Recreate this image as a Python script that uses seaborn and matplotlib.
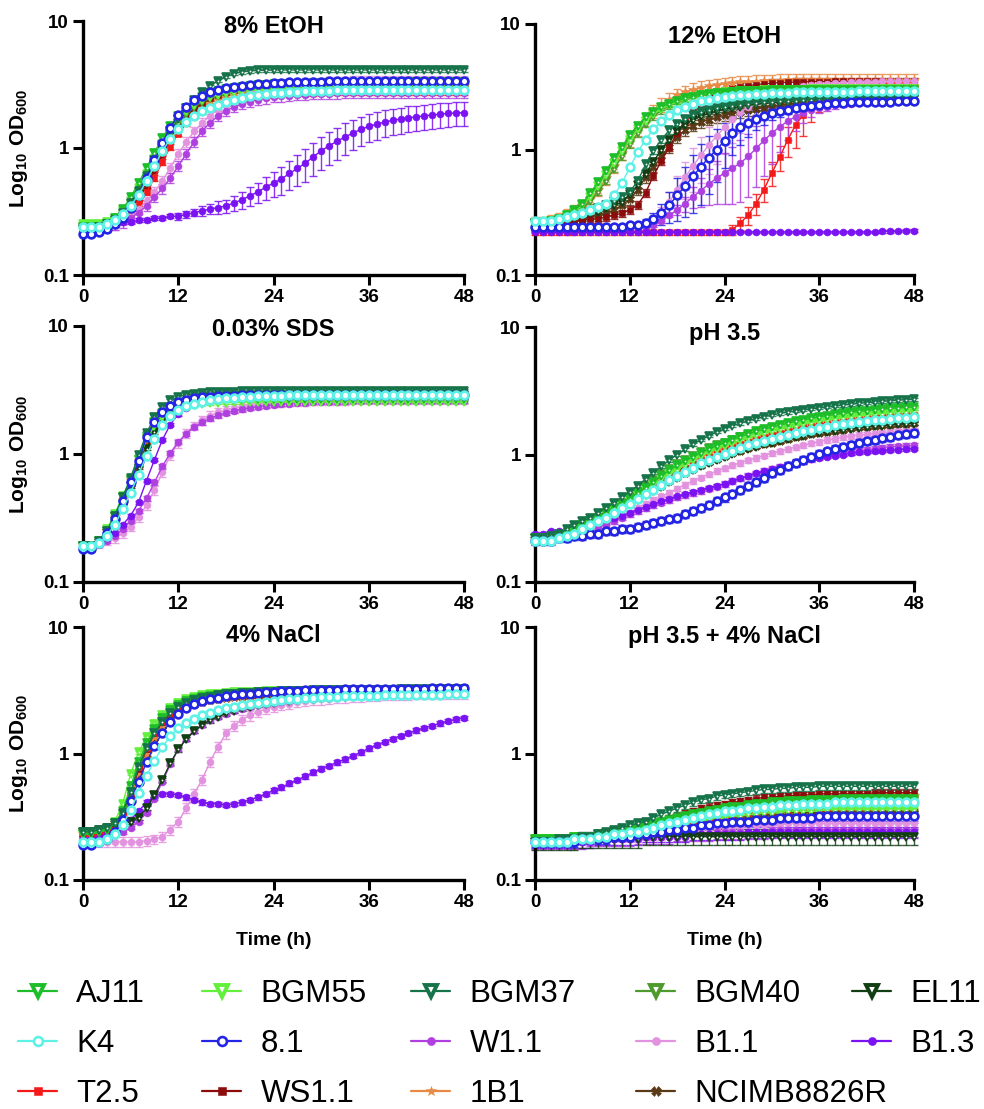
import numpy as np
import matplotlib
matplotlib.use("Agg")
import matplotlib.pyplot as plt
from matplotlib.lines import Line2D
from matplotlib.ticker import NullLocator
import seaborn as sns

sns.set_theme(style="ticks")
plt.rcParams['font.family'] = ['Liberation Sans', 'DejaVu Sans']
plt.rcParams['mathtext.fontset'] = 'custom'
plt.rcParams['mathtext.bf'] = 'Liberation Sans:bold'
plt.rcParams['mathtext.rm'] = 'Liberation Sans'
for key in ("text.color", "axes.labelcolor", "xtick.color", "ytick.color",
            "axes.edgecolor"):
    plt.rcParams[key] = "black"

# ---------------------------------------------------------------- data
hours = list(range(49))

strains = ["AJ11", "BGM55", "BGM37", "BGM40", "EL11",
           "K4", "8.1", "W1.1", "B1.1", "B1.3",
           "T2.5", "WS1.1", "1B1", "NCIMB8826R"]

panel_titles = ["8% EtOH", "12% EtOH", "0.03% SDS", "pH 3.5",
                "4% NaCl", "pH 3.5 + 4% NaCl"]

x_ticks = [0, 12, 24, 36, 48]
y_ticks = [0.1, 1, 10]
y_tick_labels = ["0.1", "1", "10"]

# mean OD600 per hour, 8% ethanol
ETOH_8 = {
    "AJ11": [0.24,0.24,0.24,0.25,0.28,0.33,0.41,0.53,0.70,0.92,1.20,1.50,
             1.80,2.08,2.32,2.52,2.68,2.80,2.90,2.98,3.04,3.08,3.12,3.15,
             3.17,3.19,3.20,3.21,3.22,3.23,3.24,3.25,3.25,3.26,3.26,3.27,
             3.27,3.27,3.28,3.28,3.28,3.29,3.29,3.29,3.30,3.30,3.30,3.30,3.30],
    "BGM55": [0.25,0.25,0.25,0.26,0.28,0.32,0.38,0.48,0.62,0.82,1.08,1.38,
              1.68,1.95,2.18,2.38,2.52,2.62,2.70,2.76,2.80,2.84,2.87,2.89,
              2.91,2.92,2.93,2.94,2.95,2.96,2.96,2.97,2.97,2.98,2.98,2.98,
              2.99,2.99,2.99,2.99,2.99,2.99,3.00,3.00,3.00,3.00,3.00,3.00,3.00],
    "BGM37": [0.23,0.23,0.24,0.25,0.27,0.31,0.37,0.46,0.60,0.80,1.05,1.35,
              1.70,2.05,2.40,2.75,3.05,3.40,3.65,3.85,3.97,4.04,4.08,4.10,
              4.11,4.12,4.12,4.12,4.12,4.12,4.12,4.12,4.12,4.12,4.12,4.12,
              4.12,4.12,4.12,4.12,4.12,4.12,4.12,4.12,4.12,4.12,4.12,4.12,4.12],
    "BGM40": [0.24,0.24,0.24,0.25,0.27,0.30,0.36,0.45,0.58,0.77,1.00,1.28,
              1.58,1.86,2.10,2.30,2.46,2.58,2.68,2.76,2.82,2.87,2.91,2.94,
              2.96,2.98,3.00,3.01,3.02,3.03,3.04,3.05,3.05,3.06,3.06,3.06,
              3.07,3.07,3.07,3.07,3.07,3.07,3.07,3.07,3.07,3.07,3.07,3.07,3.07],
    "EL11": [0.23,0.23,0.23,0.24,0.26,0.29,0.34,0.42,0.54,0.72,0.96,1.25,
             1.56,1.86,2.12,2.34,2.52,2.66,2.78,2.88,2.96,3.02,3.07,3.10,
             3.13,3.15,3.16,3.17,3.18,3.19,3.20,3.20,3.21,3.21,3.21,3.22,
             3.22,3.22,3.22,3.22,3.22,3.22,3.22,3.22,3.22,3.22,3.22,3.22,3.22],
    "K4": [0.24,0.24,0.24,0.25,0.27,0.30,0.35,0.43,0.55,0.72,0.95,1.18,
           1.40,1.60,1.78,1.94,2.08,2.20,2.30,2.40,2.48,2.55,2.60,2.65,
           2.69,2.72,2.75,2.77,2.79,2.81,2.82,2.83,2.84,2.85,2.86,2.86,
           2.87,2.87,2.87,2.87,2.87,2.87,2.87,2.87,2.87,2.87,2.87,2.87,2.87],
    "8.1": [0.21,0.21,0.22,0.23,0.25,0.28,0.34,0.43,0.58,0.80,1.10,1.45,
            1.82,2.12,2.38,2.58,2.74,2.86,2.96,3.04,3.10,3.15,3.19,3.22,
            3.25,3.27,3.29,3.30,3.31,3.32,3.33,3.34,3.34,3.35,3.35,3.35,
            3.36,3.36,3.36,3.36,3.36,3.36,3.36,3.36,3.36,3.36,3.36,3.36,3.36],
    "W1.1": [0.23,0.23,0.23,0.24,0.25,0.26,0.28,0.31,0.35,0.41,0.48,0.58,
             0.72,0.90,1.12,1.36,1.58,1.78,1.96,2.10,2.22,2.32,2.40,2.46,
             2.51,2.55,2.58,2.61,2.63,2.65,2.67,2.68,2.69,2.70,2.71,2.72,
             2.73,2.73,2.73,2.73,2.73,2.73,2.73,2.73,2.73,2.73,2.73,2.73,2.73],
    "B1.1": [0.23,0.23,0.23,0.24,0.25,0.27,0.29,0.33,0.38,0.45,0.55,0.70,
             0.90,1.12,1.35,1.58,1.80,2.00,2.20,2.38,2.55,2.70,2.82,2.92,
             3.00,3.07,3.13,3.18,3.22,3.26,3.29,3.31,3.33,3.35,3.36,3.37,
             3.38,3.38,3.38,3.38,3.38,3.38,3.38,3.38,3.38,3.38,3.38,3.38,3.38],
    "B1.3": [0.22,0.22,0.23,0.24,0.25,0.26,0.26,0.27,0.27,0.28,0.28,0.29,
             0.29,0.30,0.31,0.32,0.33,0.34,0.35,0.37,0.39,0.42,0.45,0.49,
             0.53,0.57,0.63,0.69,0.76,0.85,0.95,1.04,1.13,1.22,1.31,1.40,
             1.48,1.54,1.60,1.65,1.69,1.73,1.76,1.79,1.82,1.85,1.87,1.89,1.90],
    "T2.5": [0.23,0.23,0.23,0.24,0.26,0.28,0.32,0.37,0.45,0.58,0.78,1.02,
             1.30,1.56,1.78,1.96,2.10,2.22,2.32,2.40,2.47,2.52,2.57,2.61,
             2.64,2.66,2.68,2.70,2.71,2.72,2.73,2.74,2.75,2.75,2.76,2.76,
             2.77,2.77,2.77,2.77,2.77,2.77,2.77,2.77,2.77,2.77,2.77,2.77,2.77],
    "WS1.1": [0.23,0.23,0.23,0.24,0.26,0.29,0.33,0.40,0.50,0.66,0.88,1.15,
              1.45,1.75,2.02,2.26,2.46,2.62,2.76,2.88,2.98,3.06,3.12,3.17,
              3.21,3.24,3.27,3.29,3.31,3.33,3.34,3.35,3.36,3.37,3.38,3.38,
              3.39,3.39,3.39,3.39,3.39,3.39,3.39,3.39,3.39,3.39,3.39,3.39,3.39],
    "1B1": [0.24,0.24,0.24,0.25,0.27,0.30,0.35,0.43,0.55,0.72,0.95,1.22,
            1.50,1.76,1.98,2.18,2.34,2.48,2.60,2.70,2.78,2.84,2.89,2.93,
            2.96,2.99,3.01,3.03,3.04,3.05,3.06,3.07,3.08,3.08,3.09,3.09,
            3.10,3.10,3.10,3.10,3.10,3.10,3.10,3.10,3.10,3.10,3.10,3.10,3.10],
    "NCIMB8826R": [0.24,0.24,0.24,0.25,0.27,0.30,0.35,0.44,0.57,0.75,0.98,1.26,
                   1.55,1.82,2.06,2.28,2.46,2.62,2.75,2.86,2.95,3.02,3.07,3.11,
                   3.14,3.16,3.18,3.19,3.20,3.21,3.22,3.22,3.23,3.23,3.23,3.24,
                   3.24,3.24,3.24,3.24,3.24,3.24,3.24,3.24,3.24,3.24,3.24,3.24,3.24],
}

# mean OD600 per hour, 12% ethanol
ETOH_12 = {
    "AJ11": [0.26,0.26,0.27,0.28,0.30,0.33,0.37,0.45,0.55,0.68,0.85,1.05,
             1.30,1.55,1.80,2.00,2.18,2.32,2.45,2.55,2.63,2.70,2.75,2.80,
             2.84,2.87,2.90,2.92,2.94,2.95,2.96,2.97,2.98,2.98,2.99,2.99,
             3.00,3.00,3.00,3.00,3.00,3.00,3.00,3.00,3.00,3.00,3.00,3.00,3.00],
    "BGM55": [0.26,0.26,0.27,0.28,0.30,0.32,0.36,0.42,0.51,0.63,0.78,0.97,
              1.20,1.45,1.70,1.92,2.10,2.26,2.40,2.52,2.62,2.70,2.76,2.81,
              2.85,2.88,2.91,2.93,2.95,2.96,2.97,2.98,2.99,3.00,3.00,3.01,
              3.01,3.01,3.02,3.02,3.02,3.02,3.02,3.03,3.03,3.03,3.03,3.03,3.03],
    "BGM37": [0.26,0.26,0.26,0.27,0.28,0.29,0.30,0.32,0.34,0.36,0.39,0.42,
              0.46,0.56,0.76,0.98,1.20,1.42,1.60,1.75,1.88,1.98,2.06,2.13,
              2.19,2.24,2.28,2.32,2.35,2.38,2.40,2.42,2.44,2.45,2.46,2.47,
              2.48,2.49,2.49,2.50,2.50,2.50,2.51,2.51,2.51,2.51,2.51,2.51,2.51],
    "BGM40": [0.26,0.26,0.27,0.27,0.29,0.31,0.34,0.39,0.46,0.56,0.70,0.88,
              1.10,1.35,1.60,1.84,2.05,2.22,2.37,2.49,2.59,2.67,2.73,2.78,
              2.82,2.85,2.88,2.90,2.92,2.93,2.94,2.95,2.96,2.96,2.97,2.97,
              2.98,2.98,2.98,2.98,2.98,2.99,2.99,2.99,2.99,2.99,2.99,2.99,2.99],
    "EL11": [0.26,0.26,0.26,0.27,0.28,0.29,0.30,0.31,0.32,0.34,0.36,0.38,
             0.44,0.52,0.64,0.80,1.00,1.20,1.40,1.58,1.72,1.84,1.94,2.02,
             2.09,2.15,2.20,2.25,2.29,2.33,2.36,2.39,2.42,2.44,2.46,2.48,
             2.50,2.52,2.53,2.54,2.55,2.56,2.57,2.58,2.58,2.59,2.59,2.60,2.60],
    "K4": [0.27,0.27,0.27,0.28,0.29,0.30,0.31,0.33,0.35,0.37,0.43,0.54,
           0.72,0.95,1.20,1.45,1.68,1.88,2.05,2.20,2.32,2.42,2.50,2.57,
           2.63,2.67,2.71,2.74,2.77,2.79,2.81,2.83,2.84,2.85,2.86,2.87,
           2.88,2.88,2.89,2.89,2.89,2.90,2.90,2.90,2.90,2.90,2.90,2.90,2.90],
    "8.1": [0.24,0.24,0.24,0.24,0.24,0.24,0.24,0.24,0.24,0.24,0.24,0.24,
            0.25,0.25,0.26,0.28,0.31,0.36,0.43,0.51,0.61,0.73,0.86,1.00,
            1.17,1.35,1.50,1.63,1.75,1.85,1.94,2.02,2.08,2.14,2.19,2.23,
            2.27,2.30,2.33,2.35,2.37,2.38,2.39,2.40,2.41,2.41,2.42,2.42,2.42],
    "W1.1": [0.23,0.23,0.23,0.23,0.23,0.23,0.23,0.23,0.23,0.23,0.23,0.23,
             0.23,0.24,0.24,0.25,0.27,0.30,0.33,0.37,0.42,0.47,0.53,0.59,
             0.65,0.71,0.78,0.88,1.02,1.18,1.35,1.52,1.68,1.83,1.96,2.06,
             2.14,2.20,2.25,2.29,2.32,2.35,2.37,2.39,2.40,2.41,2.42,2.42,2.43],
    "B1.1": [0.23,0.23,0.23,0.23,0.23,0.23,0.23,0.23,0.23,0.23,0.23,0.23,
             0.23,0.24,0.25,0.27,0.31,0.38,0.48,0.60,0.74,0.90,1.08,1.28,
             1.50,1.74,1.98,2.20,2.40,2.58,2.74,2.88,3.00,3.10,3.18,3.25,
             3.30,3.34,3.38,3.41,3.43,3.45,3.47,3.48,3.49,3.50,3.51,3.51,3.52],
    "B1.3": [0.22,0.22,0.22,0.22,0.22,0.22,0.22,0.22,0.22,0.22,0.22,0.22,
             0.22,0.22,0.22,0.22,0.22,0.22,0.22,0.22,0.22,0.22,0.22,0.22,
             0.22,0.22,0.22,0.22,0.22,0.22,0.22,0.22,0.22,0.22,0.22,0.22,
             0.22,0.22,0.22,0.22,0.22,0.22,0.22,0.22,0.223,0.223,0.224,0.225,0.225],
    "T2.5": [0.22,0.22,0.22,0.22,0.22,0.22,0.22,0.22,0.22,0.22,0.22,0.22,
             0.22,0.22,0.22,0.22,0.22,0.22,0.22,0.22,0.22,0.22,0.22,0.22,
             0.22,0.23,0.26,0.30,0.37,0.48,0.65,0.87,1.19,1.57,1.90,2.20,
             2.45,2.65,2.82,2.96,3.08,3.17,3.24,3.30,3.34,3.37,3.40,3.42,3.43],
    "WS1.1": [0.26,0.26,0.26,0.26,0.26,0.27,0.27,0.28,0.28,0.29,0.30,0.31,
              0.33,0.36,0.45,0.62,0.81,1.05,1.35,1.70,2.00,2.30,2.55,2.75,
              2.92,3.05,3.15,3.23,3.29,3.34,3.38,3.41,3.43,3.45,3.46,3.47,
              3.48,3.48,3.49,3.49,3.49,3.50,3.50,3.50,3.50,3.50,3.50,3.50,3.50],
    "1B1": [0.26,0.26,0.27,0.28,0.30,0.32,0.35,0.40,0.48,0.59,0.74,0.94,
            1.18,1.45,1.74,2.02,2.28,2.50,2.70,2.86,3.00,3.11,3.20,3.27,
            3.33,3.38,3.42,3.45,3.48,3.50,3.52,3.54,3.55,3.56,3.57,3.58,
            3.58,3.59,3.59,3.60,3.60,3.60,3.60,3.60,3.60,3.60,3.60,3.60,3.60],
    "NCIMB8826R": [0.26,0.26,0.26,0.26,0.27,0.27,0.28,0.29,0.30,0.31,0.33,0.36,
                   0.40,0.48,0.60,0.72,0.88,1.05,1.25,1.42,1.55,1.65,1.73,1.80,
                   1.87,1.93,1.99,2.05,2.10,2.15,2.20,2.25,2.29,2.33,2.37,2.40,
                   2.43,2.46,2.48,2.50,2.52,2.54,2.55,2.56,2.57,2.58,2.59,2.60,2.60],
}

# mean OD600 per hour, 0.03% SDS
SDS_003 = {
    "AJ11": [0.19,0.19,0.21,0.25,0.33,0.46,0.63,0.92,1.38,1.78,2.08,2.30,
             2.45,2.55,2.61,2.65,2.67,2.68,2.69,2.70,2.70,2.70,2.71,2.71,
             2.71,2.71,2.71,2.71,2.71,2.71,2.71,2.71,2.71,2.71,2.71,2.71,
             2.71,2.71,2.71,2.71,2.71,2.71,2.71,2.71,2.71,2.71,2.71,2.71,2.71],
    "BGM55": [0.19,0.19,0.21,0.26,0.34,0.47,0.64,0.90,1.30,1.66,1.95,2.15,
              2.28,2.36,2.42,2.46,2.49,2.51,2.52,2.53,2.54,2.54,2.55,2.55,
              2.55,2.55,2.55,2.55,2.55,2.55,2.55,2.55,2.55,2.55,2.55,2.55,
              2.55,2.55,2.55,2.55,2.55,2.55,2.55,2.55,2.55,2.55,2.55,2.55,2.55],
    "BGM37": [0.19,0.19,0.21,0.25,0.33,0.46,0.65,0.98,1.45,1.95,2.35,2.62,
              2.80,2.90,2.96,3.00,3.03,3.05,3.06,3.07,3.08,3.08,3.09,3.09,
              3.09,3.09,3.10,3.10,3.10,3.10,3.10,3.10,3.10,3.10,3.10,3.10,
              3.10,3.10,3.10,3.10,3.10,3.10,3.10,3.10,3.10,3.10,3.10,3.10,3.10],
    "BGM40": [0.19,0.19,0.21,0.25,0.32,0.45,0.62,0.90,1.34,1.74,2.05,2.28,
              2.44,2.55,2.62,2.67,2.70,2.72,2.74,2.75,2.76,2.76,2.77,2.77,
              2.77,2.78,2.78,2.78,2.78,2.78,2.78,2.78,2.78,2.78,2.78,2.78,
              2.78,2.78,2.78,2.78,2.78,2.78,2.78,2.78,2.78,2.78,2.78,2.78,2.78],
    "EL11": [0.19,0.19,0.20,0.24,0.30,0.41,0.56,0.78,1.10,1.48,1.85,2.15,
             2.38,2.53,2.63,2.70,2.75,2.78,2.80,2.82,2.83,2.84,2.85,2.85,
             2.86,2.86,2.86,2.87,2.87,2.87,2.87,2.87,2.87,2.87,2.87,2.87,
             2.87,2.87,2.87,2.87,2.87,2.87,2.87,2.87,2.87,2.87,2.87,2.87,2.87],
    "K4": [0.19,0.19,0.20,0.23,0.28,0.37,0.50,0.69,0.97,1.32,1.68,1.98,
           2.20,2.36,2.48,2.57,2.64,2.69,2.73,2.76,2.79,2.81,2.83,2.84,
           2.85,2.86,2.87,2.87,2.88,2.88,2.88,2.89,2.89,2.89,2.89,2.89,
           2.90,2.90,2.90,2.90,2.90,2.90,2.90,2.90,2.90,2.90,2.90,2.90,2.90],
    "8.1": [0.18,0.18,0.20,0.24,0.31,0.43,0.60,0.88,1.35,1.78,2.12,2.38,
            2.55,2.66,2.73,2.78,2.81,2.83,2.85,2.86,2.87,2.87,2.88,2.88,
            2.88,2.88,2.89,2.89,2.89,2.89,2.89,2.89,2.89,2.89,2.89,2.89,
            2.89,2.89,2.89,2.89,2.89,2.89,2.89,2.89,2.89,2.89,2.89,2.89,2.89],
    "W1.1": [0.19,0.19,0.20,0.21,0.23,0.26,0.30,0.36,0.45,0.60,0.80,1.02,
             1.24,1.44,1.62,1.77,1.90,2.00,2.09,2.17,2.23,2.29,2.34,2.38,
             2.42,2.45,2.48,2.50,2.52,2.54,2.55,2.56,2.57,2.58,2.59,2.60,
             2.60,2.60,2.60,2.60,2.60,2.60,2.60,2.60,2.60,2.60,2.60,2.60,2.60],
    "B1.1": [0.19,0.19,0.20,0.21,0.22,0.24,0.27,0.32,0.40,0.52,0.72,0.98,
             1.22,1.45,1.66,1.84,1.99,2.11,2.21,2.29,2.36,2.42,2.46,2.50,
             2.53,2.55,2.57,2.59,2.60,2.61,2.62,2.63,2.64,2.64,2.65,2.65,
             2.65,2.65,2.65,2.65,2.65,2.65,2.65,2.65,2.65,2.65,2.65,2.65,2.65],
    "B1.3": [0.19,0.19,0.20,0.22,0.24,0.28,0.33,0.42,0.62,0.90,1.29,1.70,
             2.05,2.30,2.45,2.55,2.61,2.65,2.68,2.70,2.71,2.72,2.73,2.73,
             2.74,2.74,2.74,2.75,2.75,2.75,2.75,2.75,2.75,2.75,2.75,2.75,
             2.75,2.75,2.75,2.75,2.75,2.75,2.75,2.75,2.75,2.75,2.75,2.75,2.75],
    "T2.5": [0.19,0.19,0.21,0.25,0.32,0.44,0.60,0.86,1.25,1.65,2.00,2.28,
             2.48,2.60,2.68,2.73,2.76,2.78,2.80,2.81,2.82,2.82,2.83,2.83,
             2.84,2.84,2.84,2.84,2.85,2.85,2.85,2.85,2.85,2.85,2.85,2.85,
             2.85,2.85,2.85,2.85,2.85,2.85,2.85,2.85,2.85,2.85,2.85,2.85,2.85],
    "WS1.1": [0.19,0.19,0.21,0.25,0.32,0.45,0.62,0.90,1.32,1.74,2.10,2.38,
              2.58,2.72,2.80,2.85,2.88,2.90,2.91,2.92,2.93,2.93,2.94,2.94,
              2.94,2.95,2.95,2.95,2.95,2.95,2.95,2.95,2.95,2.95,2.95,2.95,
              2.95,2.95,2.95,2.95,2.95,2.95,2.95,2.95,2.95,2.95,2.95,2.95,2.95],
    "1B1": [0.19,0.19,0.21,0.25,0.32,0.44,0.61,0.88,1.28,1.68,2.02,2.28,
            2.46,2.58,2.66,2.71,2.75,2.77,2.79,2.80,2.81,2.82,2.83,2.83,
            2.84,2.84,2.84,2.85,2.85,2.85,2.85,2.85,2.85,2.85,2.85,2.85,
            2.85,2.85,2.85,2.85,2.85,2.85,2.85,2.85,2.85,2.85,2.85,2.85,2.85],
    "NCIMB8826R": [0.19,0.19,0.20,0.24,0.31,0.42,0.58,0.82,1.18,1.56,1.92,2.22,
                   2.44,2.59,2.69,2.76,2.80,2.83,2.85,2.87,2.88,2.89,2.89,2.90,
                   2.90,2.90,2.90,2.90,2.90,2.90,2.90,2.90,2.90,2.90,2.90,2.90,
                   2.90,2.90,2.90,2.90,2.90,2.90,2.90,2.90,2.90,2.90,2.90,2.90,2.90],
}

# mean OD600 per hour, pH 3.5
PH_35 = {
    "AJ11": [0.22,0.22,0.22,0.23,0.24,0.26,0.28,0.30,0.32,0.35,0.38,0.41,
             0.45,0.50,0.55,0.61,0.68,0.75,0.82,0.89,0.96,1.03,1.10,1.17,
             1.24,1.31,1.38,1.45,1.52,1.58,1.64,1.70,1.76,1.82,1.87,1.92,
             1.97,2.02,2.06,2.10,2.14,2.18,2.21,2.24,2.27,2.30,2.32,2.34,2.36],
    "BGM55": [0.22,0.22,0.22,0.23,0.24,0.25,0.27,0.29,0.31,0.34,0.37,0.40,
              0.44,0.48,0.53,0.58,0.64,0.70,0.76,0.83,0.90,0.97,1.04,1.10,
              1.17,1.23,1.29,1.35,1.41,1.47,1.53,1.58,1.63,1.68,1.73,1.78,
              1.82,1.86,1.90,1.94,1.97,2.00,2.03,2.06,2.09,2.12,2.14,2.16,2.18],
    "BGM37": [0.22,0.22,0.23,0.24,0.26,0.28,0.30,0.32,0.35,0.38,0.42,0.46,
              0.51,0.57,0.64,0.72,0.81,0.90,1.00,1.10,1.20,1.30,1.40,1.50,
              1.59,1.68,1.76,1.84,1.91,1.98,2.04,2.10,2.15,2.20,2.24,2.28,
              2.32,2.36,2.40,2.44,2.48,2.52,2.55,2.58,2.61,2.64,2.67,2.69,2.71],
    "BGM40": [0.22,0.22,0.22,0.23,0.24,0.26,0.28,0.30,0.32,0.35,0.38,0.42,
              0.46,0.51,0.57,0.63,0.70,0.77,0.84,0.91,0.98,1.05,1.12,1.18,
              1.24,1.30,1.36,1.42,1.48,1.54,1.60,1.65,1.70,1.75,1.80,1.85,
              1.90,1.94,1.98,2.02,2.06,2.10,2.13,2.16,2.19,2.22,2.25,2.27,2.29],
    "EL11": [0.21,0.21,0.21,0.22,0.23,0.24,0.26,0.28,0.30,0.32,0.35,0.38,
             0.41,0.44,0.48,0.52,0.56,0.61,0.66,0.71,0.76,0.81,0.86,0.91,
             0.96,1.01,1.06,1.11,1.15,1.20,1.24,1.28,1.32,1.36,1.40,1.44,
             1.47,1.50,1.53,1.56,1.59,1.62,1.64,1.66,1.68,1.70,1.72,1.74,1.75],
    "K4": [0.21,0.21,0.21,0.22,0.23,0.24,0.26,0.28,0.30,0.32,0.35,0.38,
           0.41,0.45,0.49,0.53,0.58,0.63,0.68,0.73,0.79,0.85,0.90,0.96,
           1.01,1.07,1.12,1.18,1.23,1.28,1.33,1.38,1.43,1.48,1.53,1.57,
           1.61,1.65,1.69,1.73,1.76,1.79,1.82,1.85,1.88,1.90,1.93,1.95,1.97],
    "8.1": [0.21,0.21,0.21,0.22,0.22,0.23,0.23,0.24,0.24,0.25,0.25,0.26,
            0.26,0.27,0.28,0.29,0.30,0.31,0.32,0.34,0.36,0.38,0.40,0.43,
            0.46,0.49,0.53,0.57,0.61,0.66,0.71,0.76,0.81,0.86,0.91,0.96,
            1.01,1.06,1.10,1.15,1.19,1.23,1.27,1.31,1.35,1.38,1.42,1.45,1.48],
    "W1.1": [0.22,0.22,0.22,0.23,0.23,0.24,0.25,0.26,0.27,0.28,0.30,0.32,
             0.34,0.36,0.38,0.40,0.42,0.44,0.46,0.48,0.50,0.52,0.54,0.56,
             0.59,0.62,0.65,0.68,0.71,0.74,0.77,0.80,0.83,0.86,0.89,0.92,
             0.95,0.98,1.00,1.03,1.05,1.07,1.09,1.11,1.13,1.15,1.16,1.17,1.18],
    "B1.1": [0.21,0.21,0.21,0.22,0.22,0.23,0.24,0.25,0.27,0.29,0.31,0.33,
             0.35,0.38,0.41,0.44,0.47,0.50,0.54,0.58,0.62,0.66,0.70,0.74,
             0.78,0.82,0.86,0.90,0.94,0.98,1.02,1.06,1.10,1.14,1.18,1.22,
             1.26,1.30,1.33,1.36,1.39,1.42,1.44,1.46,1.48,1.50,1.52,1.54,1.55],
    "B1.3": [0.24,0.24,0.25,0.25,0.26,0.27,0.28,0.29,0.30,0.31,0.32,0.33,
             0.35,0.37,0.39,0.41,0.43,0.45,0.47,0.49,0.51,0.53,0.55,0.57,
             0.59,0.62,0.65,0.68,0.71,0.74,0.77,0.80,0.83,0.86,0.89,0.92,
             0.94,0.96,0.98,1.00,1.02,1.04,1.05,1.06,1.07,1.08,1.09,1.10,1.11],
    "T2.5": [0.21,0.21,0.22,0.23,0.24,0.25,0.27,0.29,0.31,0.34,0.37,0.40,
             0.43,0.47,0.51,0.56,0.61,0.66,0.72,0.78,0.84,0.90,0.96,1.02,
             1.08,1.14,1.20,1.26,1.32,1.38,1.43,1.48,1.53,1.58,1.63,1.68,
             1.72,1.76,1.80,1.84,1.87,1.90,1.93,1.96,1.98,2.00,2.02,2.04,2.05],
    "WS1.1": [0.21,0.21,0.21,0.22,0.23,0.24,0.26,0.28,0.30,0.33,0.36,0.39,
              0.42,0.46,0.50,0.54,0.59,0.64,0.69,0.74,0.80,0.86,0.92,0.98,
              1.04,1.10,1.16,1.22,1.28,1.33,1.38,1.43,1.48,1.53,1.57,1.61,
              1.65,1.69,1.73,1.77,1.80,1.83,1.86,1.89,1.92,1.94,1.96,1.98,2.00],
    "1B1": [0.21,0.21,0.22,0.23,0.24,0.26,0.28,0.30,0.32,0.35,0.38,0.42,
            0.46,0.51,0.56,0.61,0.67,0.73,0.79,0.85,0.91,0.97,1.03,1.08,
            1.13,1.18,1.23,1.28,1.33,1.38,1.42,1.46,1.50,1.54,1.58,1.62,
            1.66,1.69,1.72,1.75,1.78,1.81,1.84,1.87,1.89,1.91,1.93,1.95,1.96],
    "NCIMB8826R": [0.21,0.21,0.21,0.22,0.23,0.24,0.26,0.28,0.30,0.32,0.35,0.38,
                   0.41,0.45,0.49,0.53,0.57,0.62,0.67,0.72,0.77,0.82,0.87,0.92,
                   0.97,1.02,1.07,1.12,1.16,1.20,1.24,1.28,1.32,1.36,1.40,1.44,
                   1.48,1.51,1.54,1.57,1.60,1.63,1.65,1.67,1.69,1.71,1.73,1.75,1.76],
}

# mean OD600 per hour, 4% NaCl
NACL_4 = {
    "AJ11": [0.23,0.23,0.24,0.25,0.28,0.35,0.55,0.85,1.20,1.55,1.90,2.20,
             2.42,2.58,2.70,2.79,2.86,2.91,2.95,2.98,3.01,3.03,3.05,3.07,
             3.08,3.09,3.10,3.11,3.12,3.13,3.13,3.14,3.14,3.15,3.15,3.16,
             3.16,3.17,3.17,3.17,3.18,3.18,3.18,3.19,3.19,3.19,3.20,3.20,3.20],
    "BGM55": [0.23,0.23,0.24,0.25,0.29,0.40,0.69,1.02,1.35,1.70,2.00,2.30,
              2.52,2.68,2.80,2.88,2.94,2.98,3.01,3.04,3.06,3.08,3.09,3.10,
              3.11,3.12,3.13,3.13,3.14,3.14,3.15,3.15,3.15,3.16,3.16,3.16,
              3.16,3.17,3.17,3.17,3.17,3.17,3.18,3.18,3.18,3.18,3.18,3.18,3.18],
    "BGM37": [0.24,0.24,0.25,0.26,0.28,0.34,0.50,0.78,1.10,1.45,1.78,2.08,
              2.32,2.50,2.64,2.74,2.82,2.88,2.93,2.97,3.00,3.03,3.05,3.07,
              3.09,3.10,3.12,3.13,3.14,3.15,3.16,3.17,3.17,3.18,3.18,3.19,
              3.19,3.20,3.20,3.20,3.21,3.21,3.21,3.21,3.22,3.22,3.22,3.22,3.22],
    "BGM40": [0.23,0.23,0.24,0.25,0.28,0.33,0.50,0.80,1.12,1.48,1.82,2.12,
              2.36,2.53,2.66,2.76,2.83,2.88,2.92,2.96,2.99,3.01,3.03,3.05,
              3.06,3.07,3.08,3.09,3.10,3.11,3.11,3.12,3.12,3.13,3.13,3.14,
              3.14,3.14,3.15,3.15,3.15,3.15,3.16,3.16,3.16,3.16,3.16,3.16,3.16],
    "EL11": [0.24,0.24,0.25,0.26,0.27,0.28,0.29,0.31,0.37,0.47,0.62,0.84,
             1.08,1.30,1.50,1.68,1.83,1.96,2.08,2.18,2.27,2.35,2.42,2.48,
             2.53,2.58,2.62,2.66,2.69,2.72,2.75,2.77,2.79,2.81,2.83,2.85,
             2.86,2.88,2.89,2.90,2.91,2.92,2.93,2.94,2.95,2.95,2.96,2.96,2.97],
    "K4": [0.20,0.20,0.20,0.21,0.23,0.27,0.36,0.49,0.66,0.88,1.12,1.38,
           1.58,1.74,1.88,2.00,2.10,2.19,2.27,2.34,2.41,2.47,2.52,2.57,
           2.61,2.65,2.68,2.71,2.74,2.76,2.78,2.80,2.82,2.83,2.84,2.85,
           2.86,2.87,2.88,2.89,2.90,2.90,2.91,2.91,2.92,2.92,2.93,2.93,2.93],
    "8.1": [0.19,0.19,0.20,0.21,0.24,0.30,0.42,0.60,0.85,1.15,1.45,1.78,
            2.05,2.28,2.45,2.58,2.68,2.76,2.83,2.89,2.94,2.98,3.02,3.05,
            3.08,3.10,3.12,3.14,3.16,3.17,3.18,3.19,3.20,3.21,3.22,3.23,
            3.23,3.24,3.24,3.25,3.25,3.26,3.26,3.26,3.27,3.27,3.27,3.28,3.28],
    "W1.1": [0.21,0.21,0.21,0.22,0.23,0.24,0.26,0.29,0.34,0.44,0.60,0.82,
             1.08,1.30,1.50,1.68,1.83,1.96,2.07,2.17,2.26,2.34,2.41,2.47,
             2.52,2.57,2.61,2.65,2.68,2.71,2.74,2.77,2.79,2.81,2.83,2.85,
             2.86,2.88,2.89,2.90,2.91,2.92,2.93,2.94,2.95,2.95,2.96,2.96,2.97],
    "B1.1": [0.20,0.20,0.20,0.20,0.20,0.20,0.20,0.20,0.205,0.21,0.22,0.25,
             0.29,0.37,0.48,0.62,0.86,1.13,1.44,1.65,1.85,2.00,2.13,2.24,
             2.33,2.41,2.48,2.54,2.59,2.64,2.68,2.72,2.75,2.78,2.81,2.83,
             2.85,2.87,2.89,2.90,2.92,2.93,2.94,2.95,2.96,2.97,2.97,2.98,2.98],
    "B1.3": [0.21,0.21,0.22,0.23,0.25,0.27,0.30,0.35,0.41,0.46,0.48,0.48,
             0.47,0.45,0.43,0.41,0.40,0.40,0.39,0.40,0.41,0.43,0.45,0.48,
             0.51,0.54,0.58,0.62,0.66,0.71,0.76,0.80,0.85,0.90,0.96,1.02,
             1.10,1.17,1.24,1.31,1.38,1.45,1.52,1.59,1.66,1.73,1.80,1.86,1.92],
    "T2.5": [0.22,0.22,0.23,0.24,0.27,0.34,0.50,0.78,1.10,1.48,1.80,2.08,
             2.30,2.46,2.58,2.67,2.74,2.80,2.85,2.89,2.92,2.95,2.97,2.99,
             3.01,3.03,3.04,3.05,3.06,3.07,3.08,3.09,3.09,3.10,3.10,3.11,
             3.11,3.12,3.12,3.12,3.13,3.13,3.13,3.14,3.14,3.14,3.14,3.15,3.15],
    "WS1.1": [0.23,0.23,0.24,0.25,0.27,0.33,0.48,0.75,1.08,1.45,1.76,2.04,
              2.26,2.42,2.54,2.63,2.70,2.76,2.81,2.85,2.88,2.91,2.93,2.95,
              2.97,2.99,3.00,3.01,3.02,3.03,3.04,3.05,3.05,3.06,3.06,3.07,
              3.07,3.08,3.08,3.08,3.09,3.09,3.09,3.10,3.10,3.10,3.10,3.10,3.10],
    "1B1": [0.23,0.23,0.24,0.25,0.27,0.32,0.45,0.70,1.00,1.35,1.66,1.94,
            2.16,2.33,2.46,2.56,2.64,2.70,2.75,2.79,2.82,2.85,2.87,2.89,
            2.91,2.92,2.93,2.94,2.95,2.96,2.97,2.97,2.98,2.98,2.99,2.99,
            2.99,3.00,3.00,3.00,3.00,3.00,3.00,3.00,3.00,3.00,3.00,3.00,3.00],
    "NCIMB8826R": [0.23,0.23,0.24,0.25,0.27,0.32,0.44,0.68,0.98,1.32,1.64,1.92,
                   2.15,2.32,2.45,2.55,2.63,2.69,2.74,2.78,2.82,2.85,2.87,2.89,
                   2.91,2.92,2.93,2.94,2.95,2.96,2.97,2.97,2.98,2.98,2.99,2.99,
                   2.99,3.00,3.00,3.00,3.00,3.00,3.00,3.00,3.00,3.00,3.00,3.00,3.00],
}

# mean OD600 per hour, pH 3.5 combined with 4% NaCl
PH_NACL = {
    "AJ11": [0.21,0.21,0.21,0.21,0.21,0.22,0.22,0.22,0.23,0.23,0.24,0.24,
             0.25,0.26,0.27,0.28,0.29,0.30,0.31,0.32,0.33,0.34,0.35,0.36,
             0.37,0.38,0.38,0.39,0.40,0.40,0.41,0.41,0.42,0.42,0.42,0.43,
             0.43,0.43,0.43,0.44,0.44,0.44,0.44,0.44,0.44,0.44,0.44,0.44,0.44],
    "BGM55": [0.21,0.21,0.21,0.21,0.21,0.22,0.22,0.22,0.22,0.23,0.23,0.23,
              0.24,0.24,0.25,0.25,0.26,0.27,0.27,0.28,0.29,0.29,0.30,0.31,
              0.31,0.32,0.32,0.33,0.33,0.34,0.34,0.34,0.35,0.35,0.35,0.35,
              0.35,0.36,0.36,0.36,0.36,0.36,0.36,0.36,0.36,0.36,0.36,0.36,0.36],
    "BGM37": [0.20,0.20,0.20,0.21,0.21,0.21,0.22,0.22,0.23,0.24,0.25,0.26,
              0.27,0.28,0.29,0.31,0.33,0.35,0.37,0.39,0.41,0.43,0.44,0.46,
              0.47,0.48,0.49,0.50,0.51,0.52,0.52,0.53,0.53,0.54,0.54,0.54,
              0.55,0.55,0.55,0.55,0.55,0.55,0.55,0.55,0.55,0.55,0.55,0.55,0.55],
    "BGM40": [0.21,0.21,0.21,0.21,0.21,0.22,0.22,0.22,0.23,0.23,0.24,0.24,
              0.25,0.26,0.26,0.27,0.28,0.29,0.30,0.31,0.32,0.33,0.34,0.35,
              0.35,0.36,0.37,0.37,0.38,0.39,0.39,0.40,0.40,0.40,0.41,0.41,
              0.41,0.41,0.42,0.42,0.42,0.42,0.42,0.42,0.42,0.42,0.42,0.42,0.42],
    "EL11": [0.20,0.20,0.20,0.20,0.20,0.20,0.21,0.21,0.21,0.21,0.21,0.21,
             0.21,0.21,0.22,0.22,0.22,0.22,0.22,0.22,0.22,0.22,0.22,0.22,
             0.22,0.22,0.22,0.22,0.22,0.22,0.22,0.22,0.22,0.22,0.22,0.22,
             0.22,0.22,0.22,0.22,0.22,0.22,0.22,0.22,0.22,0.22,0.22,0.22,0.22],
    "K4": [0.20,0.20,0.20,0.20,0.20,0.21,0.21,0.21,0.22,0.22,0.23,0.23,
           0.24,0.24,0.25,0.26,0.27,0.28,0.29,0.30,0.31,0.32,0.33,0.34,
           0.35,0.35,0.36,0.37,0.37,0.38,0.38,0.39,0.39,0.39,0.40,0.40,
           0.40,0.40,0.41,0.41,0.41,0.41,0.41,0.41,0.41,0.41,0.41,0.41,0.41],
    "8.1": [0.20,0.20,0.20,0.20,0.20,0.20,0.21,0.21,0.21,0.21,0.22,0.22,
            0.22,0.23,0.23,0.24,0.24,0.25,0.25,0.26,0.26,0.27,0.27,0.28,
            0.28,0.29,0.29,0.29,0.30,0.30,0.30,0.31,0.31,0.31,0.31,0.31,
            0.32,0.32,0.32,0.32,0.32,0.32,0.32,0.32,0.32,0.32,0.32,0.32,0.32],
    "W1.1": [0.20,0.20,0.20,0.20,0.20,0.20,0.20,0.21,0.21,0.21,0.21,0.21,
             0.21,0.22,0.22,0.22,0.22,0.22,0.23,0.23,0.23,0.23,0.23,0.24,
             0.24,0.24,0.24,0.24,0.24,0.24,0.25,0.25,0.25,0.25,0.25,0.25,
             0.25,0.25,0.25,0.25,0.25,0.25,0.25,0.25,0.25,0.25,0.25,0.25,0.25],
    "B1.1": [0.20,0.20,0.20,0.20,0.20,0.20,0.21,0.21,0.21,0.21,0.21,0.22,
             0.22,0.22,0.23,0.23,0.23,0.24,0.24,0.24,0.25,0.25,0.25,0.26,
             0.26,0.26,0.26,0.27,0.27,0.27,0.27,0.27,0.28,0.28,0.28,0.28,
             0.28,0.28,0.28,0.28,0.28,0.28,0.28,0.28,0.28,0.28,0.28,0.28,0.28],
    "B1.3": [0.20,0.20,0.20,0.20,0.20,0.20,0.20,0.20,0.21,0.21,0.21,0.21,
             0.21,0.21,0.22,0.22,0.22,0.22,0.22,0.22,0.23,0.23,0.23,0.23,
             0.23,0.23,0.23,0.24,0.24,0.24,0.24,0.24,0.24,0.24,0.24,0.24,
             0.24,0.24,0.24,0.24,0.24,0.24,0.24,0.24,0.24,0.24,0.24,0.24,0.24],
    "T2.5": [0.20,0.20,0.20,0.20,0.20,0.21,0.21,0.21,0.22,0.22,0.22,0.23,
             0.23,0.24,0.24,0.25,0.26,0.27,0.28,0.28,0.29,0.30,0.31,0.31,
             0.32,0.33,0.33,0.34,0.34,0.35,0.35,0.36,0.36,0.36,0.37,0.37,
             0.37,0.37,0.38,0.38,0.38,0.38,0.38,0.38,0.38,0.38,0.38,0.38,0.38],
    "WS1.1": [0.20,0.20,0.20,0.20,0.21,0.21,0.21,0.22,0.22,0.23,0.23,0.24,
              0.25,0.26,0.27,0.28,0.29,0.31,0.32,0.34,0.35,0.37,0.38,0.39,
              0.40,0.41,0.42,0.43,0.44,0.45,0.45,0.46,0.46,0.47,0.47,0.47,
              0.48,0.48,0.48,0.48,0.48,0.48,0.48,0.49,0.49,0.49,0.49,0.49,0.49],
    "1B1": [0.20,0.20,0.20,0.20,0.21,0.21,0.21,0.22,0.22,0.23,0.23,0.24,
            0.25,0.26,0.27,0.28,0.29,0.30,0.31,0.33,0.34,0.35,0.36,0.37,
            0.38,0.39,0.40,0.41,0.41,0.42,0.43,0.43,0.44,0.44,0.44,0.45,
            0.45,0.45,0.45,0.46,0.46,0.46,0.46,0.46,0.46,0.46,0.46,0.46,0.46],
    "NCIMB8826R": [0.20,0.20,0.20,0.20,0.20,0.21,0.21,0.21,0.21,0.22,0.22,0.22,
                   0.23,0.23,0.24,0.24,0.25,0.25,0.26,0.27,0.27,0.28,0.28,0.29,
                   0.29,0.30,0.30,0.31,0.31,0.32,0.32,0.32,0.33,0.33,0.33,0.33,
                   0.34,0.34,0.34,0.34,0.34,0.34,0.34,0.34,0.34,0.34,0.34,0.34,0.34],
}

# standard deviations: a number is a coefficient of variation, a list is an SD per hour
ETOH_8_SD = {
    "AJ11": 0.07, "W1.1": 0.09, "B1.1": 0.09, "T2.5": 0.05, "BGM37": 0.03,
    "B1.3": [0.01,0.01,0.01,0.01,0.01,0.01,0.01,0.01,0.01,0.01,0.01,0.01,
             0.02,0.02,0.02,0.03,0.03,0.04,0.04,0.05,0.06,0.07,0.08,0.10,
             0.12,0.14,0.16,0.19,0.22,0.25,0.28,0.30,0.32,0.34,0.35,0.36,
             0.37,0.38,0.38,0.39,0.39,0.40,0.40,0.40,0.40,0.40,0.40,0.40,0.40],
}
ETOH_12_SD = {
    "1B1": 0.12, "AJ11": 0.06, "BGM40": 0.06, "K4": 0.05, "BGM37": 0.06,
    "EL11": 0.05, "WS1.1": 0.07, "NCIMB8826R": 0.10,
    "8.1": [0.01,0.01,0.01,0.01,0.01,0.01,0.01,0.01,0.01,0.01,0.01,0.01,
            0.01,0.01,0.02,0.03,0.06,0.10,0.16,0.22,0.30,0.37,0.42,0.45,
            0.46,0.45,0.42,0.38,0.33,0.28,0.23,0.19,0.15,0.12,0.10,0.09,
            0.08,0.08,0.08,0.08,0.08,0.08,0.08,0.08,0.08,0.08,0.08,0.08,0.08],
    "W1.1": [0.01,0.01,0.01,0.01,0.01,0.01,0.01,0.01,0.01,0.01,0.01,0.01,
             0.01,0.01,0.01,0.01,0.01,0.01,0.03,0.05,0.08,0.12,0.17,0.22,
             0.28,0.34,0.40,0.46,0.52,0.56,0.58,0.56,0.50,0.42,0.34,0.26,
             0.20,0.16,0.13,0.10,0.10,0.10,0.10,0.10,0.10,0.10,0.10,0.10,0.10],
    "B1.1": [0.01,0.01,0.01,0.01,0.01,0.01,0.01,0.01,0.01,0.01,0.01,0.01,
             0.01,0.01,0.01,0.01,0.04,0.08,0.14,0.20,0.28,0.36,0.44,0.52,
             0.58,0.62,0.62,0.58,0.52,0.45,0.38,0.30,0.24,0.19,0.15,0.12,
             0.10,0.10,0.10,0.10,0.10,0.10,0.10,0.10,0.10,0.10,0.10,0.10,0.10],
    "T2.5": [0.01,0.01,0.01,0.01,0.01,0.01,0.01,0.01,0.01,0.01,0.01,0.01,
             0.01,0.01,0.01,0.01,0.01,0.01,0.01,0.01,0.01,0.01,0.01,0.01,
             0.01,0.02,0.03,0.05,0.07,0.10,0.14,0.20,0.32,0.55,0.62,0.55,
             0.45,0.35,0.25,0.18,0.14,0.12,0.12,0.12,0.12,0.12,0.12,0.12,0.12],
}
SDS_003_SD = {"B1.1": 0.08, "W1.1": 0.04, "K4": 0.03, "BGM37": 0.03}
PH_35_SD = {"8.1": 0.07, "W1.1": 0.05, "B1.1": 0.05, "T2.5": 0.03,
            "BGM40": 0.03, "NCIMB8826R": 0.03}
NACL_4_SD = {"B1.1": 0.09, "B1.3": 0.04, "EL11": 0.04, "W1.1": 0.03, "K4": 0.03}
PH_NACL_SD = {"BGM37": 0.06, "WS1.1": 0.06, "1B1": 0.06, "K4": 0.05, "8.1": 0.08,
              "EL11": 0.14, "W1.1": 0.12, "B1.1": 0.10, "B1.3": 0.10,
              "AJ11": 0.05, "BGM40": 0.05, "T2.5": 0.05, "NCIMB8826R": 0.05}

panels = [(ETOH_8, ETOH_8_SD), (ETOH_12, ETOH_12_SD), (SDS_003, SDS_003_SD),
          (PH_35, PH_35_SD), (NACL_4, NACL_4_SD), (PH_NACL, PH_NACL_SD)]

for table, _ in panels:
    for name, vals in table.items():
        assert len(vals) == len(hours), (name, len(vals))

# ---------------------------------------------------------------- styles
colors = {
    "AJ11": "#1DBE2A", "BGM55": "#62F03C", "BGM37": "#17744A",
    "BGM40": "#4E9A2C", "EL11": "#123E14", "K4": "#5EF2E6",
    "8.1": "#2424E4", "W1.1": "#B03FE0", "B1.1": "#E292DE",
    "B1.3": "#7A12F2", "T2.5": "#F41A1A", "WS1.1": "#8C0B0B",
    "1B1": "#E98A44", "NCIMB8826R": "#5A3A16",
}
# (marker, size, face, edge width); face None means filled with the line colour
marker_style = {
    "AJ11": ("v", 6.4, None, 1.2), "BGM55": ("v", 6.4, None, 1.2),
    "BGM37": ("v", 6.4, None, 1.2), "BGM40": ("v", 6.4, None, 1.2),
    "EL11": ("v", 6.4, None, 1.2),
    "K4": ("o", 5.6, "white", 1.9), "8.1": ("o", 5.6, "white", 1.9),
    "W1.1": ("o", 5.0, None, 0.4), "B1.1": ("o", 5.0, None, 0.4),
    "B1.3": ("o", 5.0, None, 0.4),
    "T2.5": ("s", 4.8, None, 0.4), "WS1.1": ("s", 4.8, None, 0.4),
    "1B1": ("*", 7.0, None, 0.4), "NCIMB8826R": ("X", 6.0, None, 0.4),
}
# small white centre drawn on the triangle markers
dot_strains = {"AJ11", "BGM55", "BGM37", "BGM40", "EL11"}
draw_order = ["NCIMB8826R", "1B1", "WS1.1", "T2.5", "B1.1", "W1.1", "B1.3",
              "EL11", "BGM40", "BGM55", "AJ11", "BGM37", "8.1", "K4"]

# axes rectangles in figure fractions
W, H = 984, 1109
px_boxes = [(83, 21, 381, 254), (535, 24, 379, 251),
            (83, 326, 381, 256), (535, 327, 379, 255),
            (83, 627, 381, 253), (535, 627, 379, 253)]
title_drop = [0.02, 0.05, 0.012, 0.025, 0.032, 0.036]

fig = plt.figure(figsize=(W / 100, H / 100), dpi=100)

for i, ((table, sd), title) in enumerate(zip(panels, panel_titles)):
    x0, y0, w, h = px_boxes[i]
    ax = fig.add_axes([x0 / W, 1 - (y0 + h) / H, w / W, h / H])
    ax.set_yscale("log")
    for name in draw_order:
        y = np.asarray(table[name], dtype=float)
        spec = sd.get(name, 0.025)
        err = y * spec if np.isscalar(spec) else np.asarray(spec, dtype=float)
        c = colors[name]
        ax.errorbar(hours, y, yerr=err, fmt="none", ecolor=c, elinewidth=1.0,
                    capsize=2.6, capthick=1.0, alpha=0.85, zorder=2,
                    clip_on=False)
        mk, ms, mfc, mew = marker_style[name]
        sns.lineplot(x=hours, y=y, ax=ax, color=c, linewidth=1.0,
                     marker=mk, markersize=ms,
                     markerfacecolor=(mfc if mfc else c),
                     markeredgecolor=c, markeredgewidth=mew,
                     errorbar=None, legend=False, clip_on=False, zorder=3)
        if name in dot_strains:
            ax.plot(hours, y, linestyle="none", marker="o", markersize=1.3,
                    markerfacecolor="white", markeredgewidth=0,
                    clip_on=False, zorder=3)

    ax.set_xlim(0, 48)
    ax.set_ylim(0.1, 10)
    ax.set_xticks(x_ticks)
    ax.set_xticklabels([str(t) for t in x_ticks])
    ax.set_yticks(y_ticks)
    ax.set_yticklabels(y_tick_labels)
    ax.yaxis.set_minor_locator(NullLocator())
    ax.tick_params(axis="both", direction="out", length=7, width=2.2,
                   labelsize=13.5, pad=3, color="black", labelcolor="black")
    for lbl in ax.get_xticklabels() + ax.get_yticklabels():
        lbl.set_fontweight("bold")
    for side in ("top", "right"):
        ax.spines[side].set_visible(False)
    for side in ("left", "bottom"):
        ax.spines[side].set_linewidth(2.4)
        ax.spines[side].set_color("black")
    ax.set_xlabel("")
    ax.set_ylabel("")
    ax.text(0.5, 1.0 - title_drop[i], title, transform=ax.transAxes,
            ha="center", va="center", fontsize=17, fontweight="bold",
            color="black", zorder=5)
    if i % 2 == 0:
        ax.set_ylabel(r"$\mathbf{Log_{10}\ OD_{600}}$", fontsize=15,
                      color="black")
        ax.yaxis.set_label_coords(-53 / w, 0.5)
    if i >= 4:
        ax.set_xlabel("Time (h)", fontsize=14, fontweight="bold",
                      color="black")
        ax.xaxis.set_label_coords(0.5, -(932 - 880) / h)

# legend: five columns of strains
legend_cols = [["AJ11", "K4", "T2.5"], ["BGM55", "8.1", "WS1.1"],
               ["BGM37", "W1.1", "1B1"], ["BGM40", "B1.1", "NCIMB8826R"],
               ["EL11", "B1.3"]]
col_x = [18, 202, 411, 636, 852]
for names, cx in zip(legend_cols, col_x):
    handles = []
    for name in names:
        mk, ms, mfc, mew = marker_style[name]
        if name in dot_strains:
            handles.append(Line2D([], [], color=colors[name], linewidth=1.6,
                                  marker=mk, markersize=ms + 1.8,
                                  markerfacecolor="white",
                                  markeredgecolor=colors[name],
                                  markeredgewidth=2.8))
        else:
            handles.append(Line2D([], [], color=colors[name], linewidth=1.6,
                                  marker=mk, markersize=ms + 0.8,
                                  markerfacecolor=(mfc if mfc else colors[name]),
                                  markeredgecolor=colors[name],
                                  markeredgewidth=mew))
    leg = fig.legend(handles, names, loc="upper left",
                     bbox_to_anchor=(cx / W, 1 - 979 / H), frameon=False,
                     fontsize=22.5, handlelength=1.25, handletextpad=0.62,
                     labelspacing=0.64, borderpad=0.0, borderaxespad=0.0)
    for t in leg.get_texts():
        t.set_color("black")

fig.savefig("out.png", dpi=100)
